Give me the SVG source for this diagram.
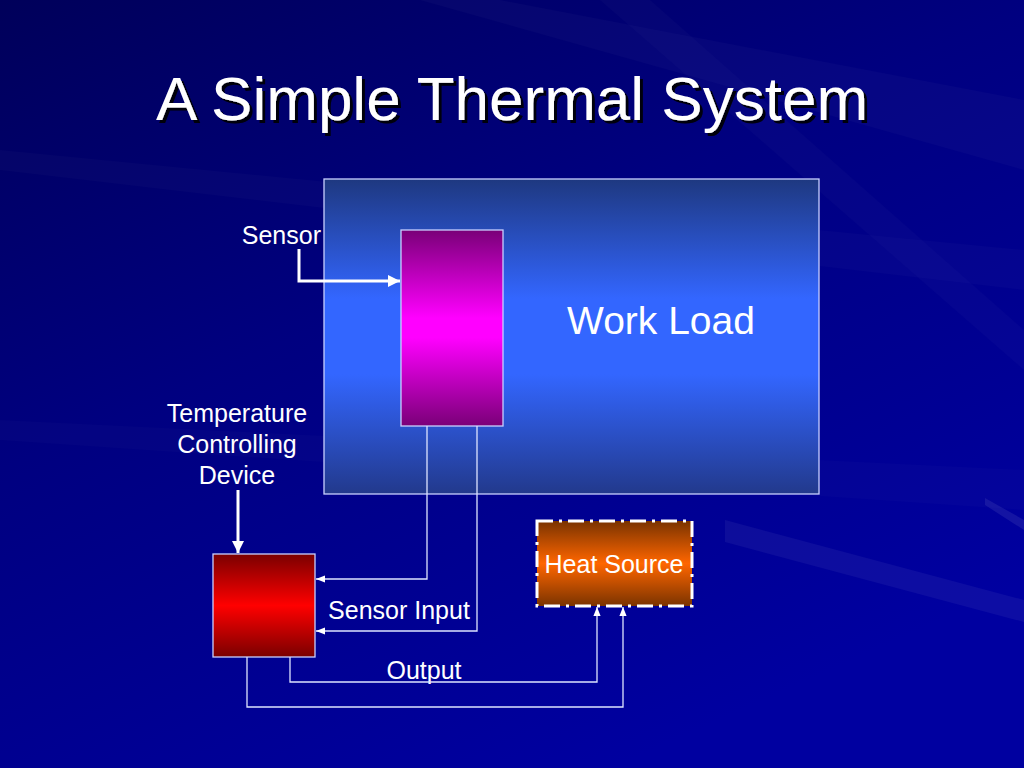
<svg xmlns="http://www.w3.org/2000/svg" width="1024" height="768" viewBox="0 0 1024 768">
<defs>
<linearGradient id="bg" x1="0" y1="0" x2="0.6" y2="1">
<stop offset="0" stop-color="#00005a"/>
<stop offset="0.45" stop-color="#000080"/>
<stop offset="1" stop-color="#0000a0"/>
</linearGradient>
<linearGradient id="wl" x1="0" y1="0" x2="0" y2="1">
<stop offset="0" stop-color="#1e3880"/>
<stop offset="0.38" stop-color="#3366ff"/>
<stop offset="0.62" stop-color="#3366ff"/>
<stop offset="1" stop-color="#22398c"/>
</linearGradient>
<linearGradient id="mg" x1="0" y1="0" x2="0" y2="1">
<stop offset="0" stop-color="#7a0078"/>
<stop offset="0.45" stop-color="#ff00ff"/>
<stop offset="0.55" stop-color="#ff00ff"/>
<stop offset="1" stop-color="#7a0078"/>
</linearGradient>
<linearGradient id="rd" x1="0" y1="0" x2="0" y2="1">
<stop offset="0" stop-color="#7a0000"/>
<stop offset="0.5" stop-color="#ff0000"/>
<stop offset="1" stop-color="#7a0000"/>
</linearGradient>
<linearGradient id="hs" x1="0" y1="0" x2="0" y2="1">
<stop offset="0" stop-color="#7a3300"/>
<stop offset="0.5" stop-color="#ff6600"/>
<stop offset="1" stop-color="#7a3300"/>
</linearGradient>
<marker id="ah" viewBox="0 0 10 10" refX="10" refY="5" markerWidth="4" markerHeight="4" orient="auto" markerUnits="strokeWidth">
<path d="M0,0 L10,5 L0,10 z" fill="#ffffff"/>
</marker>
<marker id="ahs" viewBox="0 0 10 10" refX="10" refY="5" markerWidth="7" markerHeight="7" orient="auto" markerUnits="strokeWidth">
<path d="M0,1 L10,5 L0,9 z" fill="#ffffff"/>
</marker>
<filter id="sh" x="-5%" y="-20%" width="110%" height="140%">
<feDropShadow dx="3" dy="3" stdDeviation="0.5" flood-color="#000000" flood-opacity="0.9"/>
</filter>
</defs>
<style>
text { font-family: "Liberation Sans", Arial, sans-serif; fill: #ffffff; }
.lbl { font-size: 25px; }
.thick { fill: none; stroke: #ffffff; stroke-width: 3; }
.thin { fill: none; stroke: #dde4ff; stroke-width: 1.3; }
.box { stroke: #c8d0ff; stroke-width: 1.3; }
</style>

<rect x="0" y="0" width="1024" height="768" fill="url(#bg)"/>
<g id="rays" fill="#ffffff">
<polygon points="1024,100 1024,170 420,0 500,0" opacity="0.025"/>
<polygon points="1024,250 1024,290 0,170 0,150" opacity="0.02"/>
<polygon points="725,520 1024,600 1024,622 725,542" opacity="0.05"/>
<polygon points="985,498 1024,520 1024,530 985,505" opacity="0.08"/>
<polygon points="600,0 650,0 1024,330 1024,370" opacity="0.02"/>
<polygon points="0,420 1024,470 1024,510 0,440" opacity="0.015"/>
</g>

<text x="512" y="120" text-anchor="middle" font-size="62" filter="url(#sh)">A Simple Thermal System</text>

<g id="workload">
<rect class="box" x="324" y="179" width="495" height="315" fill="url(#wl)"/>
<text x="661" y="334" text-anchor="middle" font-size="39">Work Load</text>
</g>

<g id="sensor">
<rect class="box" x="401" y="230" width="102" height="196" fill="url(#mg)"/>
</g>

<g id="controller">
<rect class="box" x="213" y="554" width="102" height="103" fill="url(#rd)"/>
</g>

<g id="heatsource">
<rect x="537" y="521" width="155" height="85" fill="url(#hs)" stroke="#ffffff" stroke-width="3" stroke-dasharray="16,6,3,6"/>
<text x="614" y="573" text-anchor="middle" class="lbl">Heat Source</text>
</g>

<g id="labels">
<text x="321" y="244" text-anchor="end" class="lbl">Sensor</text>
<text x="237" y="422" text-anchor="middle" class="lbl">Temperature</text>
<text x="237" y="453" text-anchor="middle" class="lbl">Controlling</text>
<text x="237" y="484" text-anchor="middle" class="lbl">Device</text>
<text x="399" y="619" text-anchor="middle" class="lbl">Sensor Input</text>
<text x="424" y="679" text-anchor="middle" class="lbl">Output</text>
</g>

<g id="connectors">
<polyline class="thick" points="299,249 299,281 400,281" marker-end="url(#ah)"/>
<polyline class="thick" points="238,490 238,553" marker-end="url(#ah)"/>
<polyline class="thin" points="427,426 427,579 316,579" marker-end="url(#ahs)"/>
<polyline class="thin" points="477,426 477,631 316,631" marker-end="url(#ahs)"/>
<polyline class="thin" points="290,657 290,682 597,682 597,607" marker-end="url(#ahs)"/>
<polyline class="thin" points="247,657 247,707 623,707 623,607" marker-end="url(#ahs)"/>
</g>
</svg>
